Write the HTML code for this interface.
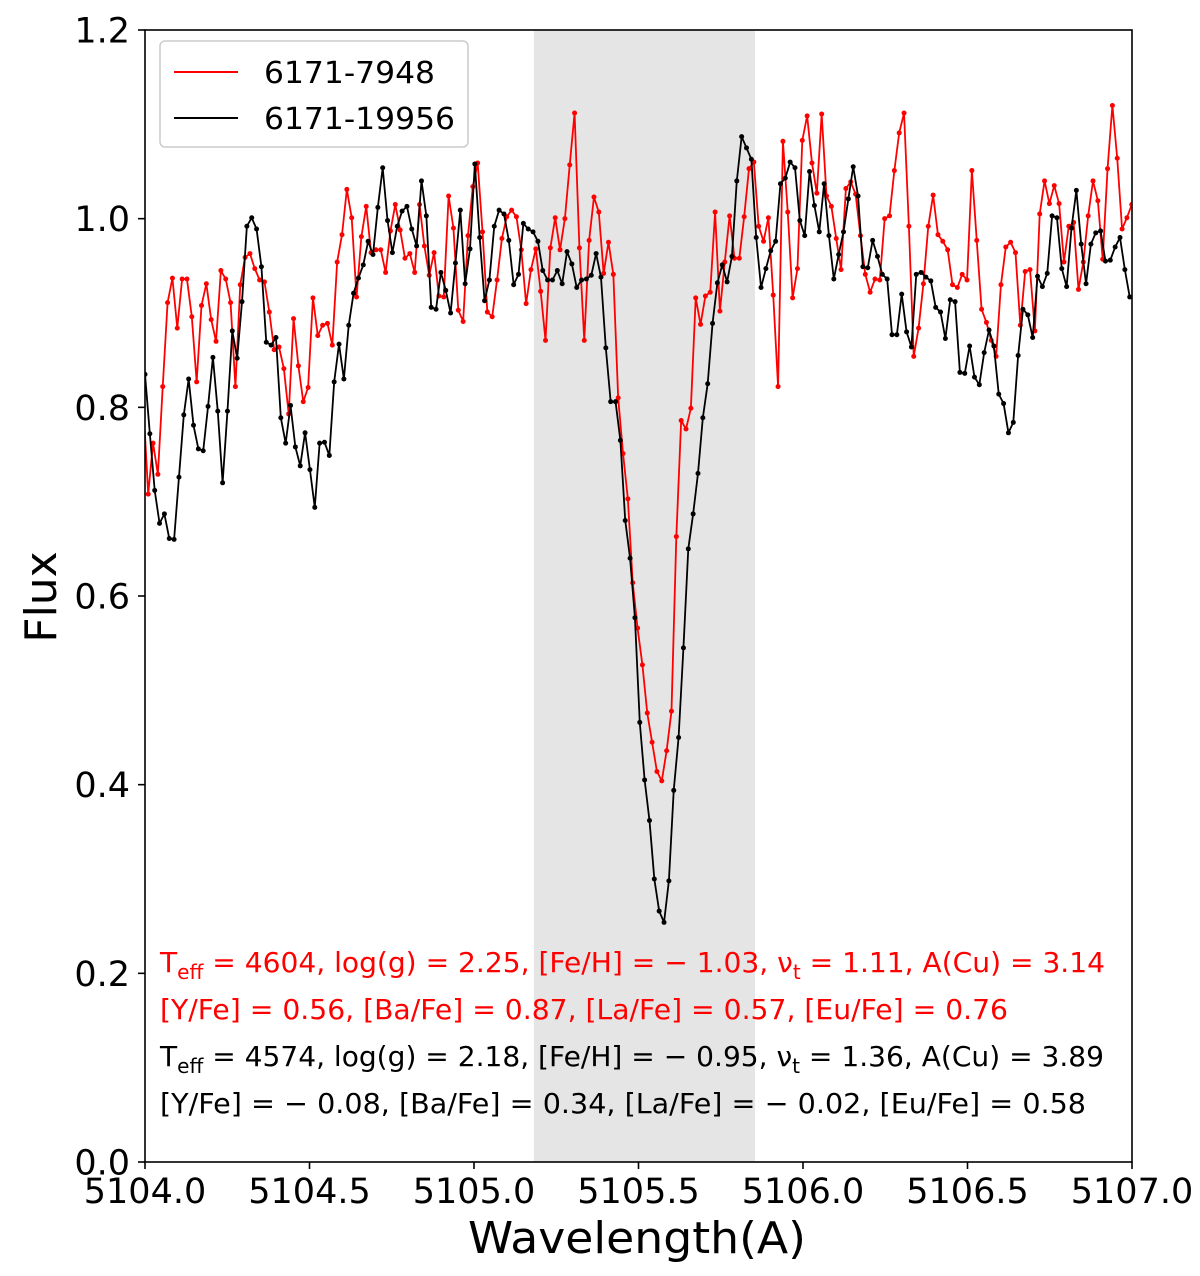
<!DOCTYPE html>
<html><head><meta charset="utf-8">
<style>
html,body{margin:0;padding:0;background:#fff;}
svg{display:block;font-family:"DejaVu Sans","Liberation Sans",sans-serif;}
</style></head>
<body>
<svg id="chart" width="1200" height="1276" viewBox="0 0 1200 1276" xmlns="http://www.w3.org/2000/svg">
<defs><clipPath id="plotclip"><rect x="145" y="30" width="987" height="1132"/></clipPath></defs>
<rect x="0" y="0" width="1200" height="1276" fill="#fff"/>
<g id="band" clip-path="url(#plotclip)"></g>
<g id="series" clip-path="url(#plotclip)"></g>
<g id="ann">
 <text x="160" y="972" font-size="28" fill="#ff0000" textLength="945" lengthAdjust="spacingAndGlyphs">T<tspan font-size="20" dy="7">eff</tspan><tspan dy="-7"> = 4604, log(g) = 2.25, [Fe/H] = − 1.03, ν</tspan><tspan font-size="20" dy="7">t</tspan><tspan dy="-7"> = 1.11, A(Cu) = 3.14</tspan></text>
 <text x="160" y="1019" font-size="28" fill="#ff0000" textLength="848" lengthAdjust="spacingAndGlyphs">[Y/Fe] = 0.56, [Ba/Fe] = 0.87, [La/Fe] = 0.57, [Eu/Fe] = 0.76</text>
 <text x="160" y="1066" font-size="28" fill="#000" textLength="944" lengthAdjust="spacingAndGlyphs">T<tspan font-size="20" dy="7">eff</tspan><tspan dy="-7"> = 4574, log(g) = 2.18, [Fe/H] = − 0.95, ν</tspan><tspan font-size="20" dy="7">t</tspan><tspan dy="-7"> = 1.36, A(Cu) = 3.89</tspan></text>
 <text x="160" y="1113" font-size="28" fill="#000" textLength="926" lengthAdjust="spacingAndGlyphs">[Y/Fe] = − 0.08, [Ba/Fe] = 0.34, [La/Fe] = − 0.02, [Eu/Fe] = 0.58</text>
</g>
<rect x="145" y="30" width="987" height="1132" fill="none" stroke="#000" stroke-width="1.6"/>
<g id="axes"></g>
<g>
 <rect x="160" y="41" width="308" height="106" rx="5" fill="#fff" fill-opacity="0.8" stroke="#ccc" stroke-width="1.5"/>
 <g>
  <line x1="174" y1="72" x2="238" y2="72" stroke="#ff0000" stroke-width="2"/>
  <text x="264" y="83" font-size="30" fill="#000" textLength="171" lengthAdjust="spacingAndGlyphs">6171-7948</text>
 </g>
 <g>
  <line x1="174" y1="118" x2="238" y2="118" stroke="#000" stroke-width="2"/>
  <text x="264" y="129" font-size="30" fill="#000" textLength="191" lengthAdjust="spacingAndGlyphs">6171-19956</text>
 </g>
</g>
<text x="637" y="1253" font-size="44" text-anchor="middle" textLength="338" lengthAdjust="spacingAndGlyphs">Wavelength(A)</text>
<text transform="translate(56,597) rotate(-90)" font-size="44" text-anchor="middle">Flux</text>
</svg>
<script>
const redStart = 5103.995, redStep = 0.014727;
const blackStart = 5104.0, blackStep = 0.014744;
const bandRange = [5105.182, 5105.854];
const xTicks = [5104.0, 5104.5, 5105.0, 5105.5, 5106.0, 5106.5, 5107.0];
const xTickLabels = ["5104.0","5104.5","5105.0","5105.5","5106.0","5106.5","5107.0"];
const yTicks = [0.0, 0.2, 0.4, 0.6, 0.8, 1.0, 1.2];
const yTickLabels = ["0.0","0.2","0.4","0.6","0.8","1.0","1.2"];
const redFlux = [0.802,0.708,0.762,0.729,0.822,0.911,0.937,0.884,0.936,0.936,0.896,0.827,0.908,0.931,0.893,0.870,0.945,0.936,0.911,0.822,0.930,0.959,0.963,0.947,0.935,0.933,0.901,0.861,0.864,0.841,0.793,0.894,0.844,0.806,0.821,0.916,0.876,0.887,0.889,0.866,0.954,0.983,
1.031,1.001,0.917,0.981,1.013,0.964,0.967,0.967,0.943,0.987,1.015,0.988,0.958,0.963,0.943,1.015,0.971,0.940,0.964,0.918,0.917,1.024,0.990,0.903,0.891,0.982,1.034,1.059,0.986,0.901,0.896,0.935,0.979,1.002,1.009,1.002,0.967,0.910,0.946,
0.968,0.923,0.871,0.969,1.001,0.967,1.000,1.057,1.112,0.969,0.871,0.977,1.023,1.007,0.942,0.975,0.941,
0.810,0.751,0.703,0.614,0.566,0.527,0.476,0.445,0.414,0.404,0.436,0.478,0.663,0.786,0.777,0.799,
0.916,0.888,0.918,0.922,1.007,0.902,0.954,1.003,0.958,0.958,1.002,1.053,1.060,
0.992,0.976,1.001,0.919,0.822,1.082,1.007,0.916,0.947,1.083,1.109,1.059,1.027,1.111,1.024,1.013,0.979,0.946,1.032,1.039,1.026,0.982,0.941,0.922,0.936,0.935,1.000,1.003,1.051,1.091,1.112,0.992,0.854,0.884,0.931,0.992,1.025,0.983,0.976,0.967,
0.930,0.927,0.941,0.935,1.051,0.977,0.904,0.890,0.871,0.854,0.930,0.970,0.975,0.964,0.887,0.944,0.946,0.881,1.005,1.040,1.016,1.035,1.016,0.954,0.992,0.996,0.925,0.954,1.003,1.040,1.019,0.957,1.053,1.120,1.064,0.989,1.001,1.015];
const blackFlux = [0.835,0.772,0.712,0.677,0.687,0.661,0.660,0.726,0.792,0.830,0.781,0.756,0.754,0.801,0.853,0.796,0.720,0.796,0.881,0.852,0.912,0.992,1.001,0.989,0.949,0.869,0.866,0.874,0.789,0.762,0.802,0.758,0.738,0.773,0.734,0.694,0.762,0.763,0.749,0.827,0.867,
0.830,
0.887,0.921,0.937,0.951,0.976,0.962,1.012,1.054,0.998,0.964,0.992,1.008,1.013,0.989,0.971,1.040,1.003,0.906,0.904,0.943,0.924,0.900,0.953,1.009,0.931,0.968,1.058,0.980,0.913,0.935,0.992,1.009,1.005,0.977,0.930,0.941,0.995,0.989,0.986,0.976,
0.945,0.935,0.935,0.945,0.931,0.965,0.952,0.927,0.935,0.936,0.940,0.963,0.938,0.863,
0.806,0.806,0.765,0.680,0.640,0.577,0.466,0.405,0.362,0.300,0.266,0.254,0.298,0.394,0.450,0.545,0.650,0.687,0.730,0.789,0.825,
0.889,0.932,0.951,0.933,0.960,1.040,1.087,1.075,1.063,0.980,0.927,
0.947,0.966,0.976,1.037,1.043,1.060,1.054,0.998,0.982,1.050,1.014,0.986,1.037,0.982,0.936,0.962,0.986,1.021,1.055,1.024,0.949,0.948,0.977,0.960,0.941,0.936,0.877,0.877,0.920,0.880,0.864,0.941,0.943,0.938,0.934,0.906,0.901,0.873,
0.914,0.912,0.837,0.836,0.865,0.832,0.824,0.858,0.882,0.865,0.814,0.804,0.773,0.784,0.855,0.904,0.898,0.874,0.939,0.928,0.942,1.003,1.001,0.947,0.928,0.990,1.030,0.973,0.931,0.973,0.985,0.987,0.955,0.956,0.970,0.980,0.946,0.917];

const NS = "http://www.w3.org/2000/svg";
const X0 = 145, X1 = 1132, Y0 = 1162, Y1 = 30;
function xs(v){ return X0 + (v - 5104.0) / 3.0 * (X1 - X0); }
function ys(v){ return Y0 - v / 1.2 * (Y0 - Y1); }
function mk(tag, attrs, parent){
  const e = document.createElementNS(NS, tag);
  for (const k in attrs) e.setAttribute(k, attrs[k]);
  parent.appendChild(e);
  return e;
}
const band = document.getElementById('band');
const br = mk('rect', {x: xs(bandRange[0]), y: Y1, width: xs(bandRange[1]) - xs(bandRange[0]), height: Y0 - Y1, fill: '#e5e5e5'}, band);



const series = document.getElementById('series');
function drawSeries(start, step, vals, color, name){
  const g = mk('g', {}, series);
  
  
  const pts = vals.map((v, i) => xs(start + i * step).toFixed(2) + ',' + ys(v).toFixed(2)).join(' ');
  const pl = mk('polyline', {points: pts, fill: 'none', stroke: color, 'stroke-width': 1.8, 'stroke-linejoin': 'round'}, g);
  
  
  vals.forEach((v, i) => {
    const c = mk('circle', {cx: xs(start + i * step).toFixed(2), cy: ys(v).toFixed(2), r: 2.5, fill: color}, g);
    
    
  });
}
drawSeries(redStart, redStep, redFlux, '#ff0000', 'series-6171-7948');
drawSeries(blackStart, blackStep, blackFlux, '#000000', 'series-6171-19956');

const axes = document.getElementById('axes');
xTicks.forEach((t, i) => {
  const x = xs(t);
  const l = mk('line', {x1: x, y1: Y0, x2: x, y2: Y0 + 7, stroke: '#000', 'stroke-width': 1.6}, axes);
  
  
  const tx = mk('text', {x: x, y: 1203, 'font-size': 35, 'text-anchor': 'middle'}, axes);
  
  
  tx.textContent = xTickLabels[i];
});
yTicks.forEach((t, i) => {
  const y = ys(t);
  const l = mk('line', {x1: X0 - 7, y1: y, x2: X0, y2: y, stroke: '#000', 'stroke-width': 1.6}, axes);
  
  
  const tx = mk('text', {x: 130, y: y + 12.5, 'font-size': 35, 'text-anchor': 'end'}, axes);
  
  
  tx.textContent = yTickLabels[i];
});
</script>
</body></html>
